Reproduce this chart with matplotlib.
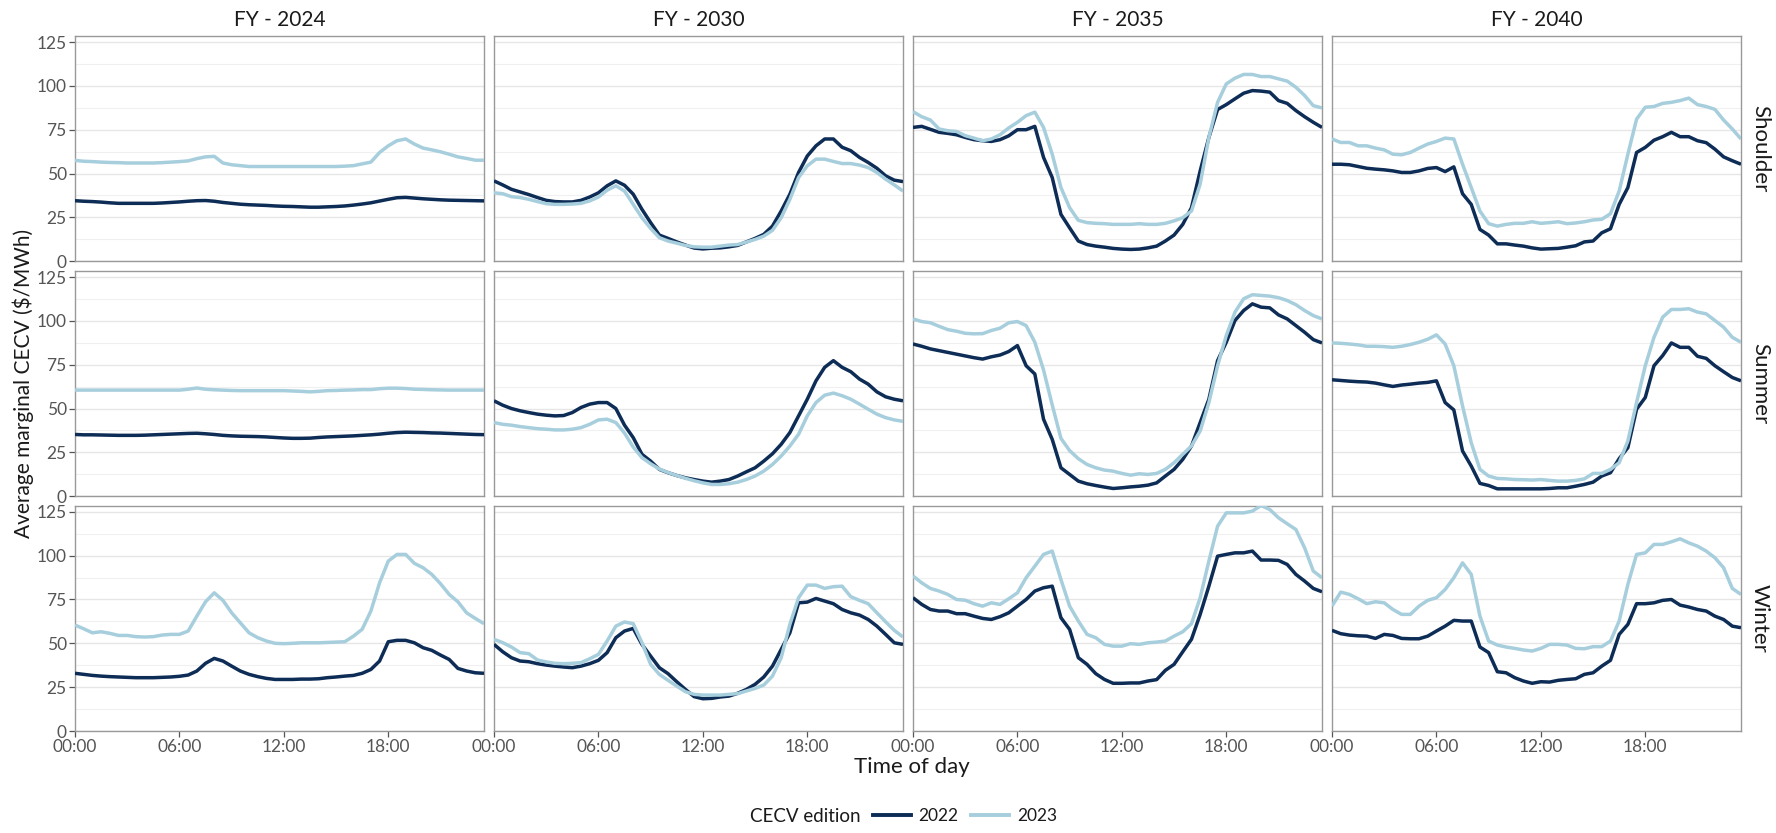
import matplotlib
matplotlib.use("Agg")
import matplotlib.pyplot as plt
from matplotlib.lines import Line2D
import numpy as np

plt.rcParams['font.family'] = ['Lato', 'DejaVu Sans']

# ---------------- data ----------------
hours = np.arange(48) * 0.5
years = ["FY - 2024", "FY - 2030", "FY - 2035", "FY - 2040"]
seasons = ["Shoulder", "Summer", "Winter"]
editions = ["2022", "2023"]
x_ticks = [0, 6, 12, 18]
x_tick_labels = ["00:00", "06:00", "12:00", "18:00"]
y_ticks = [0, 25, 50, 75, 100, 125]

# Shoulder
fy2024_shoulder_2022 = [34.5, 34.2, 34, 33.7, 33.3, 33, 33, 33, 33, 33, 33.2, 33.5, 33.8, 34.2, 34.5, 34.6,
                        34.2, 33.5, 33, 32.5, 32.2, 32, 31.8, 31.5, 31.3, 31.2, 31, 30.8, 30.8, 31, 31.2, 31.5,
                        32, 32.6, 33.3, 34.3, 35.3, 36.2, 36.4, 36, 35.6, 35.3, 35, 34.8, 34.7, 34.6, 34.5, 34.4]
fy2024_shoulder_2023 = [57.5, 57, 56.8, 56.5, 56.3, 56.2, 56, 56, 56, 56, 56.2, 56.5, 56.8, 57.2, 58.5, 59.5,
                        59.8, 56, 55, 54.5, 54, 54, 54, 54, 54, 54, 54, 54, 54, 54, 54, 54.2,
                        54.5, 55.5, 56.5, 62, 65.8, 68.7, 69.7, 66.8, 64.5, 63.5, 62.4, 61, 59.5, 58.6, 57.6, 57.6]
fy2030_shoulder_2022 = [45.8, 43.5, 41, 39.5, 38, 36.3, 34.7, 34, 33.8, 33.8, 34.7, 36.6, 39, 43, 45.8, 43.3,
                        38.2, 29.6, 22, 14.9, 13, 11, 9.2, 7.5, 7, 7.4, 7.6, 8.2, 9, 11, 13, 15.3,
                        20, 28.6, 38.2, 50.6, 60, 65.8, 69.7, 69.7, 65, 63, 59.2, 56.3, 53, 48.7, 46.2, 45.4]
fy2030_shoulder_2023 = [39, 38.5, 36.8, 36.3, 35.3, 34, 32.8, 32.4, 32.4, 32.6, 33, 34.4, 36.6, 40.5, 43, 40,
                        32.4, 24.8, 18.7, 13.4, 11.5, 10.3, 9, 8.2, 8, 8, 8.6, 9.2, 9.5, 10.9, 12.4, 14.3,
                        17.6, 24.8, 35.3, 47.7, 54.4, 58.2, 58.2, 56.9, 55.7, 55.7, 54.8, 53.4, 50.6, 46.8, 43.5, 40]
fy2035_shoulder_2022 = [76.3, 76.9, 75.2, 73.5, 72.9, 72.1, 70.6, 69.3, 68.7, 68.3, 69.3, 71.5, 75, 75, 76.9, 59.2,
                        47.7, 26.7, 19, 11.5, 9.5, 8.6, 8, 7.3, 6.9, 6.7, 6.9, 7.6, 8.6, 11.5, 14.9, 21,
                        30.5, 51.5, 70.6, 86.5, 89.3, 92.6, 95.8, 97.3, 97, 96.4, 91.6, 90, 85.9, 82.4, 79.2, 76.3]
fy2035_shoulder_2023 = [85.3, 82.4, 80.5, 75.4, 74.4, 74, 71.6, 70.2, 68.7, 69.7, 72.1, 76, 79.2, 83, 85, 76.3,
                        61, 42, 30.5, 23.3, 22, 21.6, 21.4, 21, 21, 21, 21.4, 21, 21, 21.6, 23, 24.8,
                        28.6, 44, 70.6, 90.6, 101.1, 104.4, 106.5, 106.5, 105.3, 105.3, 104, 102.7, 99.2, 94.5, 88.7, 87.4]
fy2040_shoulder_2022 = [55.3, 55.3, 55, 54, 53, 52.5, 52.1, 51.5, 50.6, 50.6, 51.5, 52.9, 53.4, 51.1, 53.8, 38.5,
                        32.4, 18.1, 14.9, 9.9, 9.9, 9.2, 8.6, 7.6, 6.9, 7.1, 7.3, 8, 8.8, 11, 11.5, 16.2,
                        18.5, 32.4, 42, 62, 64.9, 69, 71, 73.5, 71, 71, 68.7, 67.6, 63.9, 59.5, 57.3, 55.3]
fy2040_shoulder_2023 = [69.7, 67.7, 67.7, 65.8, 65.8, 64.5, 63.5, 61, 60.7, 62, 64.5, 66.8, 68.3, 70.2, 69.7, 55.3,
                        42, 28.6, 21.4, 20, 21, 21.6, 21.6, 22.5, 21.6, 22, 22.5, 21.4, 21.8, 22.5, 23.5, 23.9,
                        27.1, 40, 61, 81, 87.8, 88.2, 90, 90.6, 91.6, 93, 89.3, 88.2, 86.6, 80.5, 75.4, 69.7]

# Summer
fy2024_summer_2022 = [35.2, 35, 35, 34.9, 34.8, 34.7, 34.7, 34.7, 34.8, 35, 35.2, 35.4, 35.6, 35.8, 35.9, 35.6,
                      35.2, 34.7, 34.4, 34.2, 34.1, 34, 33.8, 33.5, 33.2, 33, 33, 33.1, 33.5, 33.8, 34, 34.2,
                      34.4, 34.7, 35, 35.4, 35.9, 36.3, 36.5, 36.4, 36.3, 36.1, 36, 35.8, 35.6, 35.4, 35.2, 35.1]
fy2024_summer_2023 = [60.5, 60.5, 60.5, 60.5, 60.5, 60.5, 60.5, 60.5, 60.5, 60.5, 60.5, 60.5, 60.5, 61, 61.7, 61,
                      60.7, 60.5, 60.3, 60.2, 60.2, 60.2, 60.2, 60.2, 60.2, 60, 59.8, 59.5, 59.8, 60.2, 60.3, 60.5,
                      60.6, 60.8, 60.8, 61.3, 61.6, 61.6, 61.4, 61, 60.9, 60.7, 60.6, 60.5, 60.5, 60.5, 60.5, 60.5]
fy2030_summer_2022 = [54.4, 51.9, 50, 48.7, 47.7, 46.8, 46.2, 45.8, 46, 47.7, 50.6, 52.5, 53.4, 53.4, 50, 40.5,
                      33.4, 23.9, 20, 15.3, 13.4, 11.8, 10.5, 9.5, 8.6, 8, 8.6, 9.5, 11.5, 13.9, 16.2, 20,
                      24.2, 29.6, 36.3, 45.8, 55.3, 65.8, 73.5, 77.3, 73.5, 71, 66.8, 63.9, 59.5, 56.7, 55.3, 54.4]
fy2030_summer_2023 = [42, 41, 40.5, 39.7, 39.1, 38.5, 38.2, 37.8, 37.8, 38.2, 39.1, 41, 43.5, 43.9, 42, 36,
                      28, 22, 18.5, 15.5, 13.5, 11.8, 10.2, 8.8, 7.6, 6.7, 6.7, 7.1, 8, 9.5, 11.5, 14.3,
                      18.1, 22.9, 28.6, 35.3, 45.8, 53.4, 57.6, 58.8, 57.3, 55.3, 52.5, 49.6, 46.8, 44.8, 43.5, 42.7]
fy2035_summer_2022 = [86.8, 85.5, 84, 83, 82, 81, 80, 79, 78.2, 79.5, 80.5, 82.5, 85.9, 74.4, 69.7, 43.9,
                      32.4, 16.2, 12.4, 8.6, 7.1, 6.1, 5.2, 4.4, 4.8, 5.3, 5.7, 6.3, 7.6, 11.5, 15.3, 21,
                      28.6, 42, 55.3, 77.3, 87.8, 100.2, 105.9, 109.7, 107.8, 107.4, 103.4, 101.1, 97.3, 93.5, 89.3, 87.4]
fy2035_summer_2023 = [101.1, 99.6, 98.9, 96.9, 95, 94.1, 92.9, 92.6, 92.7, 94.5, 95.8, 98.9, 99.6, 97.3, 87.8, 72,
                      52, 33, 26, 21.4, 18.1, 16.2, 14.9, 14.3, 13, 12, 12.8, 12.4, 13, 15.3, 19.1, 23.9,
                      28.6, 37.2, 53.4, 74.4, 91.6, 105, 112.6, 114.9, 114.5, 114.1, 113.2, 111.6, 109.2, 105.9, 103, 101.1]
fy2040_summer_2022 = [66.4, 66, 65.6, 65.3, 65.1, 64.5, 63.5, 62.6, 63.4, 63.9, 64.5, 64.9, 65.8, 53.4, 49.2, 25.8,
                      17.2, 7.3, 6.1, 4.2, 4.2, 4.2, 4.2, 4.2, 4.2, 4.4, 4.8, 4.8, 5.7, 6.7, 8, 11.5,
                      13.4, 21.4, 27.7, 49.6, 56.3, 74.4, 80.2, 87.4, 84.9, 84.9, 79.8, 78.6, 74.4, 71, 67.7, 65.8]
fy2040_summer_2023 = [87.4, 87.2, 86.8, 86.3, 85.5, 85.5, 85.3, 84.9, 85.5, 86.5, 87.8, 89.5, 92, 86.8, 74.4, 51.5,
                      30.5, 15.3, 11.5, 10.1, 9.9, 9.5, 9.4, 9.2, 9.5, 9, 8.6, 8.6, 9, 9.9, 13, 13,
                      15.3, 19.1, 31.5, 53.4, 74.4, 90.6, 102.1, 106.5, 106.5, 106.9, 105, 104, 100.2, 96.4, 90.6, 87.8]

# Winter
fy2024_winter_2022 = [32.9, 32.3, 31.7, 31.3, 31, 30.8, 30.6, 30.4, 30.4, 30.4, 30.6, 30.8, 31.2, 31.9, 34.2, 38.6,
                      41.4, 39.9, 37, 34.2, 32.3, 31, 30, 29.4, 29.4, 29.4, 29.6, 29.6, 29.8, 30.4, 30.8, 31.3,
                      31.7, 32.9, 35.1, 39.9, 50.9, 51.7, 51.7, 50.3, 47.5, 46, 43.3, 40.8, 35.7, 34.2, 33.2, 32.9]
fy2024_winter_2023 = [60.4, 58.3, 56, 56.6, 55.7, 54.5, 54.5, 53.8, 53.6, 53.8, 54.7, 55.1, 55.1, 57, 65.5, 73.7,
                      78.8, 74.5, 67.4, 61.7, 56, 53.2, 51.3, 50, 49.8, 50, 50.3, 50.3, 50.3, 50.5, 50.7, 50.9,
                      54.1, 58, 68.4, 84.5, 96.9, 100.7, 100.7, 95.6, 93.1, 89.3, 84, 77.9, 73.7, 67.4, 64.2, 61.2]
fy2030_winter_2022 = [49.4, 45.2, 41.8, 39.9, 39.5, 38.4, 37.6, 37, 36.5, 36.1, 37, 38.4, 40.3, 44.7, 53.2, 57,
                      58.5, 49.4, 42.7, 36.1, 32.7, 28.1, 23.7, 19.6, 18.4, 18.6, 19.4, 19.9, 21.5, 23.7, 26.6, 30.8,
                      37, 46.5, 56, 73.1, 73.5, 75.6, 74.1, 72.6, 69.3, 67.4, 66.1, 63.6, 59.8, 55.1, 50.3, 49.4]
fy2030_winter_2023 = [52.3, 50.4, 47.9, 44.7, 44.1, 40.5, 39.4, 38.6, 38.4, 38.6, 39, 41.2, 43.7, 51.3, 59.8, 62.2,
                      61.2, 50.4, 38, 32.3, 28.9, 25.6, 22.4, 20.9, 20.5, 20.5, 20.5, 20.9, 21.3, 22.8, 24.3, 26.2,
                      31.3, 41.8, 60.8, 76, 83.2, 83.2, 81.3, 82.3, 82.6, 76.6, 74.5, 72.6, 67.4, 62.3, 57.4, 53.6]
fy2035_winter_2022 = [76, 72.2, 69.3, 68.4, 68.4, 66.9, 66.9, 65.5, 64.2, 63.6, 65.2, 67.4, 71.2, 75, 79.8, 81.7,
                      82.6, 64.6, 57.9, 41.8, 38, 32.7, 29.4, 27.2, 27.2, 27.4, 27.4, 28.5, 29.3, 34.6, 38, 45.2,
                      52.3, 66.5, 82.6, 99.7, 100.7, 101.6, 101.6, 102.6, 97.5, 97.5, 97.3, 95, 89.3, 85.5, 81.3, 79.4]
fy2035_winter_2023 = [88.4, 84.5, 81.3, 79.8, 77.9, 75, 74.6, 72.6, 71.2, 73.1, 72.2, 75.4, 78.8, 87.4, 94, 100.7,
                      102.6, 86.4, 71.2, 62.7, 55.1, 53.2, 49.4, 48.4, 48.4, 49.8, 49.4, 50.3, 50.7, 51.3, 54.1, 56.6,
                      61.2, 76, 96.9, 116.8, 124.4, 124.4, 124.4, 125.4, 128.6, 126.3, 121.6, 118.2, 114.9, 104.5, 91.2, 87.4]
fy2040_winter_2022 = [57.4, 55.5, 54.7, 54.3, 54.1, 52.8, 55.1, 54.5, 52.8, 52.6, 52.6, 54.1, 57, 59.8, 63.1, 62.7,
                      62.7, 47.9, 44.7, 33.8, 33.2, 30.4, 28.5, 27.2, 28.1, 27.9, 28.9, 29.4, 29.8, 32.3, 33.2, 37,
                      40.3, 55.1, 60.8, 72.6, 72.6, 73.1, 74.5, 75, 71.8, 70.7, 69.3, 68.4, 65.5, 63.6, 59.8, 58.9]
fy2040_winter_2023 = [71.2, 79.2, 77.9, 75.4, 72.6, 73.7, 73.1, 69.3, 66.5, 66.5, 71.2, 74.5, 76, 80.7, 87.4, 95.9,
                      89.3, 65.5, 51.3, 49, 47.9, 47.1, 46.2, 45.6, 47.1, 49.4, 49.4, 49, 47.1, 46.9, 48.1, 48.1,
                      51.3, 62.7, 83.6, 100.7, 101.6, 106.4, 106.4, 107.9, 109.6, 107.3, 105.4, 102.6, 98.8, 93.1, 81.3, 77.9]

series = {
    ("Shoulder", "FY - 2024"): (fy2024_shoulder_2022, fy2024_shoulder_2023),
    ("Shoulder", "FY - 2030"): (fy2030_shoulder_2022, fy2030_shoulder_2023),
    ("Shoulder", "FY - 2035"): (fy2035_shoulder_2022, fy2035_shoulder_2023),
    ("Shoulder", "FY - 2040"): (fy2040_shoulder_2022, fy2040_shoulder_2023),
    ("Summer", "FY - 2024"): (fy2024_summer_2022, fy2024_summer_2023),
    ("Summer", "FY - 2030"): (fy2030_summer_2022, fy2030_summer_2023),
    ("Summer", "FY - 2035"): (fy2035_summer_2022, fy2035_summer_2023),
    ("Summer", "FY - 2040"): (fy2040_summer_2022, fy2040_summer_2023),
    ("Winter", "FY - 2024"): (fy2024_winter_2022, fy2024_winter_2023),
    ("Winter", "FY - 2030"): (fy2030_winter_2022, fy2030_winter_2023),
    ("Winter", "FY - 2035"): (fy2035_winter_2022, fy2035_winter_2023),
    ("Winter", "FY - 2040"): (fy2040_winter_2022, fy2040_winter_2023),
}

# ---------------- style / layout ----------------
W, H, DPI = 1776, 833, 100
colors = {"2022": "#0d2c56", "2023": "#a7cedc"}
text_dark = "#1a1a1a"
tick_grey = "#555555"
col_left = [75, 494, 913, 1332]
panel_w = 409
row_top = [35.7, 270.7, 505.5]
panel_h = 225.5

fig = plt.figure(figsize=(W / DPI, H / DPI), dpi=DPI)
fig.patch.set_facecolor("white")

for r, season in enumerate(seasons):
    for c, year in enumerate(years):
        ax = fig.add_axes([col_left[c] / W, 1 - (row_top[r] + panel_h) / H,
                           panel_w / W, panel_h / H])
        vals = series[(season, year)]
        for ed, v in zip(editions, vals):
            ax.plot(hours, v, color=colors[ed], lw=2.5, solid_joinstyle="round",
                    solid_capstyle="butt", zorder=3)
        ax.set_xlim(0, 23.5)
        ax.set_ylim(0, 128.6)
        ax.set_yticks(y_ticks)
        ax.set_yticks(np.arange(12.5, 128, 25), minor=True)
        ax.set_xticks(x_ticks)
        ax.grid(axis="y", which="major", color="#e6e6e6", lw=1.0, zorder=0)
        ax.grid(axis="y", which="minor", color="#f0f0f0", lw=0.8, zorder=0)
        ax.grid(axis="x", visible=False)
        ax.tick_params(axis="y", which="minor", length=0)
        ax.tick_params(axis="both", which="major", length=4, width=0.9,
                       color="#555555", labelsize=12.5, labelcolor=tick_grey, pad=2)
        for sp in ax.spines.values():
            sp.set_color("#999999")
            sp.set_linewidth(1.0)
        if c == 0:
            ax.set_yticklabels([str(t) for t in y_ticks])
        else:
            ax.tick_params(axis="y", length=0)
            ax.set_yticklabels([])
        if r == len(seasons) - 1:
            ax.set_xticklabels(x_tick_labels)
        else:
            ax.tick_params(axis="x", length=0)
            ax.set_xticklabels([])
        if r == 0:
            ax.text(0.5, 1.0 + 16 / panel_h, year, transform=ax.transAxes,
                    ha="center", va="center", fontsize=15, color=text_dark)
        if c == len(years) - 1:
            ax.text(1.0 + 19 / panel_w, 0.5, season, transform=ax.transAxes,
                    ha="center", va="center", rotation=270, fontsize=16, color=text_dark)

# axis titles
fig.text(23 / W, 1 - 383 / H, "Average marginal CECV ($/MWh)", rotation=90,
         ha="center", va="center", fontsize=15, color=text_dark)
fig.text(912 / W, 1 - 767 / H, "Time of day", ha="center", va="center",
         fontsize=16, color=text_dark)

# legend
fig.text(750 / W, 1 - 816 / H, "CECV edition", ha="left", va="center",
         fontsize=13.5, color=text_dark)
handles = [Line2D([0], [0], color=colors[e], lw=2.8) for e in editions]
fig.legend(handles, editions, loc="center left", bbox_to_anchor=(857 / W, 1 - 816 / H),
           ncol=2, frameon=False, fontsize=12.5, handlelength=2.2, handletextpad=0.45,
           columnspacing=0.7, labelcolor=text_dark)

fig.savefig("out.png", dpi=DPI, facecolor="white")
